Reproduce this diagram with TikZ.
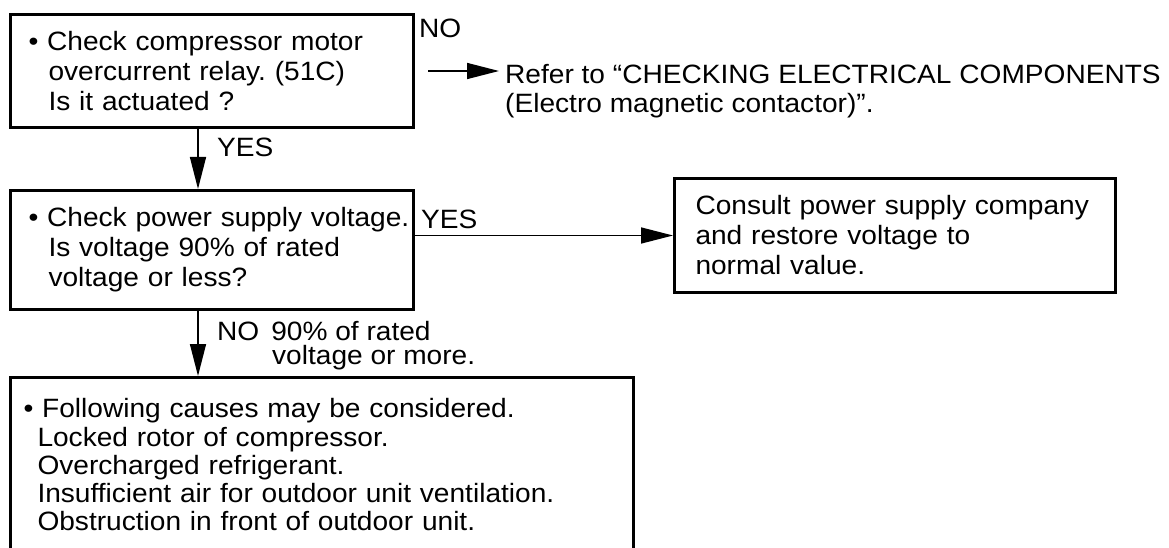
\documentclass[tikz,border=0pt]{standalone}
\usepackage{fontspec}
\setmainfont[FakeStretch=1.06]{Liberation Sans}
\frenchspacing
\usetikzlibrary{arrows.meta}
\begin{document}
\begin{tikzpicture}[x=1pt,y=-1pt,
  every node/.style={font=\fontsize{26.5}{30}\selectfont},
  box/.style={draw, line width=3pt, align=left},
  lbl/.style={inner sep=0pt, anchor=base west},
  arr/.style={-{Triangle[length=32pt,width=16pt]}, line width=1.5pt}]
\clip (0,0) rectangle (1169,548);
\fill[white] (0,0) rectangle (1169,548);
% boxes
\node[box, anchor=north west, minimum width=403pt, minimum height=113pt,
      inner xsep=18pt, text width=367pt] (b1) at (9,13)
  {\textbullet\ Check compressor motor\\
   \hspace*{20pt}overcurrent relay. (51C)\\
   \hspace*{20pt}Is it actuated ?};
\node[box, anchor=north west, minimum width=403pt, minimum height=119pt,
      inner xsep=18pt, text width=367pt] (b2) at (9,189)
  {\mbox{\textbullet\ Check power supply voltage.}\\
   \hspace*{20pt}Is voltage 90\% of rated\\
   \hspace*{20pt}voltage or less?};
\node[box, anchor=north west, minimum width=441pt, minimum height=114pt,
      inner xsep=21pt, text width=399pt] (cons) at (673,177)
  {Consult power supply company\\
   and restore voltage to\\
   normal value.};
\node[box, anchor=north west, inner xsep=13pt, inner ysep=21pt,
      text width=597pt, text depth=200pt,
      font=\fontsize{26.5}{28.3}\selectfont] (b3) at (9,376)
  {\textbullet\ Following causes may be considered.\\
   \hspace*{14pt}Locked rotor of compressor.\\
   \hspace*{14pt}Overcharged refrigerant.\\
   \hspace*{14pt}Insufficient air for outdoor unit ventilation.\\
   \hspace*{14pt}Obstruction in front of outdoor unit.};
% labels
\node[lbl] (no1) at (419,38) {NO};
\node[inner sep=0pt, anchor=north west, align=left,
      font=\fontsize{26.5}{29}\selectfont] (refer) at (505,64)
  {Refer to “CHECKING ELECTRICAL COMPONENTS\\
   (Electro magnetic contactor)”.};
\node[lbl] (yes1) at (217,157) {YES};
\node[lbl] (yes2) at (421,228) {YES};
\node[inner sep=0pt, anchor=north west, align=left,
      font=\fontsize{26.5}{24}\selectfont] (no2) at (217,321)
  {NO\hspace*{12pt}90\% of rated\\
   \hspace*{55pt}voltage or more.};
% connectors
\coordinate (ax) at (198,0);
\coordinate (nostart) at (428,71);
\draw[arr, shorten >=6pt] (nostart) -- (nostart -| refer.west);
\draw[arr] (b1.south -| ax) -- (b2.north -| ax);
\draw[arr] (b2.east |- cons.west) -- (cons.west);
\draw[arr] (b2.south -| ax) -- (b3.north -| ax);
\end{tikzpicture}
\end{document}
